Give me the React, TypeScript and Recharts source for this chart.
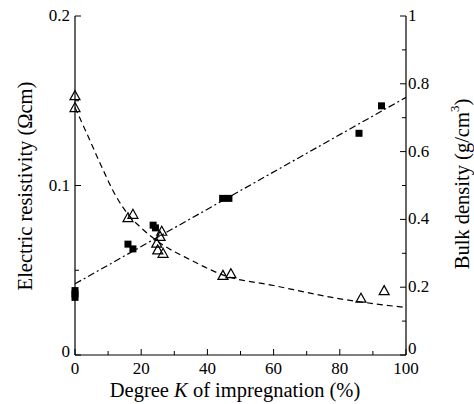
import { ComposedChart, XAxis, YAxis, Scatter, Line, Label } from 'recharts';

// Degree K of impregnation (%) for each measured point
const resistivityK = [0, 0, 16, 17.5, 26.2, 25.7, 24.7, 25, 26.6, 44.7, 47.1, 86.4, 93.4];
// Electric resistivity (Ωcm) - open triangles, left axis
const resistivity = [0.153, 0.146, 0.081, 0.083, 0.073, 0.07, 0.066, 0.062, 0.06, 0.047, 0.048, 0.0335, 0.038];

const densityK = [0, 0, 0, 16, 17.5, 23.6, 24.3, 44.6, 46.5, 85.8, 92.6];
// Bulk density (g/cm3) - filled squares, right axis
const density = [0.19, 0.18, 0.17, 0.327, 0.313, 0.383, 0.375, 0.462, 0.462, 0.654, 0.735];

// dashed fit curve through the resistivity points
const resistivityFitK = [0, 3.5, 7.6, 12.3, 16, 20, 25, 35, 45, 60, 79, 100];
const resistivityFit = [0.146, 0.131, 0.113, 0.094, 0.083, 0.075, 0.067, 0.056, 0.047, 0.041, 0.0335, 0.028];

// dash-dot straight fit for the density
const densityFitK = [0, 100];
const densityFit = [0.21, 0.76];

const xTicks = [0, 10, 20, 30, 40, 50, 60, 70, 80, 90, 100];
const xLabels = ['0', '', '20', '', '40', '', '60', '', '80', '', '100'];
const leftTicks = [0, 0.05, 0.1, 0.15, 0.2];
const leftLabels = ['0', '', '0.1', '', '0.2'];
const rightTicks = [0, 0.1, 0.2, 0.3, 0.4, 0.5, 0.6, 0.7, 0.8, 0.9, 1];
const rightLabels = ['0', '', '0.2', '', '0.4', '', '0.6', '', '0.8', '', '1'];

const resistivityData = resistivityK.map((k, i) => ({ k, r: resistivity[i] }));
const densityData = densityK.map((k, i) => ({ k, d: density[i] }));
const resistivityFitData = resistivityFitK.map((k, i) => ({ k, r: resistivityFit[i] }));
const densityFitData = densityFitK.map((k, i) => ({ k, d: densityFit[i] }));

const FONT = "'Liberation Serif', 'DejaVu Serif', serif";
const TICK_FONT = 17;
const TITLE_FONT = 20.5;
const txtStyle = { fontFamily: FONT };

function labelFor(ticks: number[], labels: string[], v: number) {
  const i = ticks.findIndex((t) => Math.abs(t - v) < 1e-9);
  return i >= 0 ? labels[i] : '';
}

function BottomTick(props: any) {
  const { x, y, payload } = props;
  const txt = labelFor(xTicks, xLabels, payload.value);
  const len = txt ? 6 : 4;
  return (
    <g>
      <line x1={x} y1={y} x2={x} y2={y - len} stroke="#000" strokeWidth={1} />
      <text x={x} y={y + 19} textAnchor="middle" style={txtStyle} fontSize={TICK_FONT} fill="#000">{txt}</text>
    </g>
  );
}

function TopTick(props: any) {
  const { x, y, payload } = props;
  const major = labelFor(xTicks, xLabels, payload.value) !== '';
  return <line x1={x} y1={y} x2={x} y2={y + (major ? 6 : 4)} stroke="#000" strokeWidth={1} />;
}

function LeftTick(props: any) {
  const { x, y, payload } = props;
  const txt = labelFor(leftTicks, leftLabels, payload.value);
  const len = txt ? 6 : 4;
  const dy = payload.value === 0 ? 2 : 5;
  return (
    <g>
      <line x1={x} y1={y} x2={x + len} y2={y} stroke="#000" strokeWidth={1} />
      <text x={x - 5} y={y + dy} textAnchor="end" style={txtStyle} fontSize={TICK_FONT} fill="#000">{txt}</text>
    </g>
  );
}

function RightTick(props: any) {
  const { x, y, payload } = props;
  const txt = labelFor(rightTicks, rightLabels, payload.value);
  const len = txt ? 6 : 4;
  const dy = payload.value === 0 ? -1 : 5;
  return (
    <g>
      <line x1={x} y1={y} x2={x - len} y2={y} stroke="#000" strokeWidth={1} />
      <text x={x + 2} y={y + dy} textAnchor="start" style={txtStyle} fontSize={TICK_FONT} fill="#000">{txt}</text>
    </g>
  );
}

function Triangle(props: any) {
  const { cx, cy } = props;
  if (cx == null || cy == null) return null;
  const pts = `${cx},${cy - 5} ${cx - 5},${cy + 4} ${cx + 5},${cy + 4}`;
  return <polygon points={pts} fill="none" stroke="#000" strokeWidth={1.2} />;
}

function Square(props: any) {
  const { cx, cy } = props;
  if (cx == null || cy == null) return null;
  return <rect x={cx - 3.5} y={cy - 3.5} width={7} height={7} fill="#000" />;
}

function App() {
  return (
    <div style={{ position: 'absolute', left: 0, top: 0, background: '#fff' }}>
      <ComposedChart width={474} height={404} margin={{ top: 16, right: 0, bottom: 0, left: 0 }}>
        <XAxis
          xAxisId="bottom"
          dataKey="k"
          type="number"
          domain={[0, 100]}
          ticks={xTicks}
          interval={0}
          height={49}
          tickSize={0}
          tickMargin={0}
          tickLine={false}
          tick={<BottomTick />}
          axisLine={{ stroke: '#000', strokeWidth: 1.2 }}
        >
          <Label
            position="insideBottom"
            content={(p: any) => {
              const vb = p.viewBox;
              return (
                <text x={235} y={vb.y + 42} textAnchor="middle" style={txtStyle} fontSize={TITLE_FONT} fill="#000">
                  Degree <tspan fontStyle="italic">K</tspan> of impregnation (%)
                </text>
              );
            }}
          />
        </XAxis>
        <XAxis
          xAxisId="top"
          orientation="top"
          type="number"
          dataKey="k"
          domain={[0, 100]}
          ticks={xTicks}
          interval={0}
          height={0}
          tickSize={0}
          tickMargin={0}
          tickLine={false}
          tick={<TopTick />}
          axisLine={{ stroke: '#000', strokeWidth: 1.2 }}
        />
        <YAxis
          yAxisId="left"
          dataKey="r"
          type="number"
          domain={[0, 0.2]}
          ticks={leftTicks}
          interval={0}
          width={75}
          tickSize={0}
          tickMargin={0}
          tickLine={false}
          tick={<LeftTick />}
          axisLine={{ stroke: '#000', strokeWidth: 1.2 }}
        >
          <Label
            content={() => {
              const cx = 25;
              const cy = 186;
              return (
                <text x={cx} y={cy} transform={`rotate(-90 ${cx} ${cy})`} textAnchor="middle" dominantBaseline="central" style={txtStyle} fontSize={TITLE_FONT} fill="#000">
                  Electric resistivity (Ωcm)
                </text>
              );
            }}
          />
        </YAxis>
        <YAxis
          yAxisId="right"
          orientation="right"
          dataKey="d"
          type="number"
          domain={[0, 1]}
          ticks={rightTicks}
          interval={0}
          width={68}
          tickSize={0}
          tickMargin={0}
          tickLine={false}
          tick={<RightTick />}
          axisLine={{ stroke: '#000', strokeWidth: 1.2 }}
        >
          <Label
            content={() => {
              const cx = 462;
              const cy = 184;
              return (
                <text x={cx} y={cy} transform={`rotate(-90 ${cx} ${cy})`} textAnchor="middle" dominantBaseline="central" style={txtStyle} fontSize={TITLE_FONT} fill="#000">
                  Bulk density (g/cm<tspan baselineShift="super" fontSize={13}>3</tspan>)
                </text>
              );
            }}
          />
        </YAxis>

        <Line
          data={resistivityFitData}
          xAxisId="bottom"
          yAxisId="left"
          dataKey="r"
          type="monotone"
          stroke="#000"
          strokeWidth={1.2}
          strokeDasharray="6 4"
          dot={false}
          activeDot={false}
          isAnimationActive={false}
        />
        <Line
          data={densityFitData}
          xAxisId="bottom"
          yAxisId="right"
          dataKey="d"
          type="linear"
          stroke="#000"
          strokeWidth={1.2}
          strokeDasharray="7 3 2 3"
          dot={false}
          activeDot={false}
          isAnimationActive={false}
        />
        <Scatter
          data={resistivityData}
          xAxisId="bottom"
          yAxisId="left"
          dataKey="r"
          shape={<Triangle />}
          isAnimationActive={false}
        />
        <Scatter
          data={densityData}
          xAxisId="bottom"
          yAxisId="right"
          dataKey="d"
          shape={<Square />}
          isAnimationActive={false}
        />
      </ComposedChart>
    </div>
  );
}

export default App;
